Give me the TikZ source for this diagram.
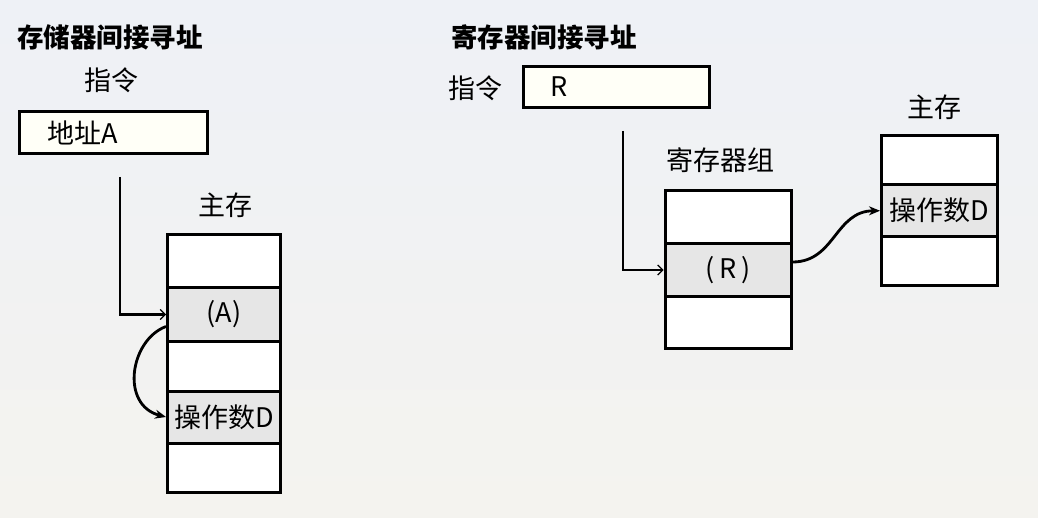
\documentclass[tikz,border=0pt]{standalone}
\usepackage{fontspec}
\setmainfont{Noto Sans CJK SC}
\usetikzlibrary{arrows.meta,calc}
\definecolor{cellgray}{HTML}{E6E6E6}
\definecolor{boxcream}{HTML}{FFFFF7}
\definecolor{bgtop}{HTML}{EEF1F6}
\definecolor{bgbot}{HTML}{F4F3EF}
\tikzset{
  cell/.style={draw=black, line width=3pt, fill=white, inner sep=0pt, anchor=center},
  graycell/.style={cell, fill=cellgray},
  instr/.style={draw=black, line width=3.2pt, fill=boxcream, inner ysep=0pt, align=left, font=\fontsize{27}{30}\selectfont},
  lbl/.style={font=\fontsize{27}{30}\selectfont, inner sep=0pt},
  ttl/.style={font=\fontsize{26.5}{30}\selectfont\bfseries, inner sep=0pt, anchor=west},
  link/.style={line width=2.8pt, -{Straight Barb[length=5pt,width=10pt,line width=1.2pt]}},
  curvy/.style={line width=2.8pt, -{Stealth[length=11pt,width=9pt]}},
  celltext/.style={font=\fontsize{27}{30}\selectfont}
}
\begin{document}
\begin{tikzpicture}[x=1pt,y=-1pt]
\useasboundingbox (0,0) rectangle (1038,518);
\shade[top color=bgtop, bottom color=bgbot] (0,0) rectangle (1038,518);

% ---------- left: memory indirect ----------
\node[ttl] (t1) at (17,37) {存储器间接寻址};
\node[lbl] (z1) at (111,80) {指令};
\node[instr, text width=132pt, inner xsep=28pt, minimum height=42pt] (ia) at (113.5,132.5) {地址A};
\node[lbl] (m1) at (225,205) {主存};

\node[cell, minimum width=113pt, minimum height=53pt] (L1) at (224,261.5) {};
\node[graycell, minimum width=113pt, minimum height=53pt, celltext] (LA) at (224,314.5) {(A)};
\node[cell, minimum width=113pt, minimum height=50pt] (L3) at (224,366) {};
\node[graycell, minimum width=113pt, minimum height=52pt, celltext] (LD) at (224,417) {操作数D};
\node[cell, minimum width=113pt, minimum height=49pt] (L5) at (224,467.5) {};

\coordinate (c1) at (120,177);
\draw[link] (c1) |- (LA.west);
\draw[curvy] ($(LA.west)+(0,12)$) .. controls (130,340) and (120,405) .. (LD.west);

% ---------- right: register indirect ----------
\node[ttl] (t2) at (451,37) {寄存器间接寻址};
\node[lbl] (z2) at (475,88) {指令};
\node[instr, text width=133pt, inner xsep=26.5pt, minimum height=41pt] (ir) at (616.75,87) {R};
\node[lbl] (rg) at (720,160) {寄存器组};
\node[lbl] (m2) at (934,107) {主存};

\node[cell, minimum width=126pt, minimum height=52.5pt] (R1) at (728,217.25) {};
\node[graycell, minimum width=126pt, minimum height=53pt, celltext] (RR) at (728,270) {(\,R\,)};
\node[cell, minimum width=126pt, minimum height=52pt] (R3) at (728,322.5) {};

\node[cell, minimum width=116pt, minimum height=49pt] (M1) at (939.5,160) {};
\node[graycell, minimum width=116pt, minimum height=52.5pt, celltext] (MD) at (939.5,210.75) {操作数D};
\node[cell, minimum width=116pt, minimum height=48.5pt] (M3) at (939.5,261.25) {};

\coordinate (c2) at (623,131);
\draw[link] (c2) |- (RR.west);
\draw[curvy] ($(RR.east)+(0,-8)$) .. controls (835,262) and (835,211) .. (MD.west);
\end{tikzpicture}
\end{document}
